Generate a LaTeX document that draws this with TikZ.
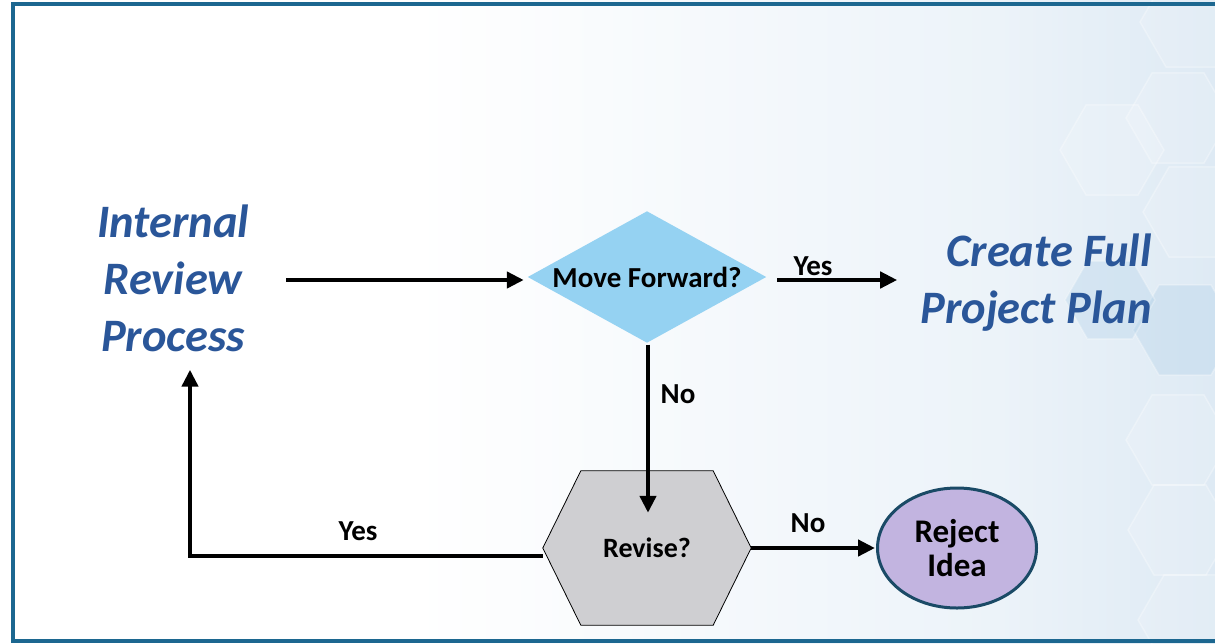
\documentclass[tikz,border=0pt]{standalone}
\usepackage{fontspec}
\setmainfont{Carlito}
\usetikzlibrary{arrows.meta,shapes.geometric,calc}
\pgfdeclarelayer{back}
\pgfsetlayers{back,main}
\definecolor{tblue}{RGB}{42,86,153}
\definecolor{dfill}{RGB}{149,210,242}
\definecolor{hfill}{RGB}{207,207,210}
\definecolor{lav}{RGB}{194,180,224}
\definecolor{edark}{RGB}{26,74,102}
\definecolor{framec}{RGB}{28,103,144}
\definecolor{bgA}{RGB}{236,243,249}
\definecolor{bgB}{RGB}{205,223,238}
\definecolor{bgC}{RGB}{176,204,228}
\pgfdeclarehorizontalshading{bgshade}{100bp}{color(0bp)=(white); color(42bp)=(white); color(66bp)=(bgA); color(86bp)=(bgB); color(100bp)=(bgC)}
\tikzset{
  big/.style={font=\fontsize{46.5}{57}\selectfont\bfseries\itshape, text=tblue, inner sep=0pt},
  lbl/.style={font=\fontsize{29}{33}\selectfont\bfseries, inner sep=0pt},
  arr/.style={line width=4.8pt, -{Triangle[length=17pt,width=16pt]}},
  hexbg/.style={draw=white, draw opacity=.3, line width=1.5pt, fill=white, fill opacity=.15},
  hexblue/.style={fill=bgC!80!dfill, fill opacity=.3, draw=white, draw opacity=.3, line width=1.5pt},
}
\begin{document}
\begin{tikzpicture}[x=1pt,y=-1pt]
\useasboundingbox (0,0) rectangle (1215,643);
\begin{pgfonlayer}{back}
\shade[shading=bgshade] (0,0) rectangle (1215,643);
\foreach \cx/\cy in {1192/22,1178/118,1112/150,1195/212,1178/440,1180/530,1190/620}{
  \draw[hexbg] (\cx,\cy) +(0:52) -- +(60:52) -- +(120:52) -- +(180:52) -- +(240:52) -- +(300:52) -- cycle;
}
\draw[hexblue] (1185,330) +(0:52) -- +(60:52) -- +(120:52) -- +(180:52) -- +(240:52) -- +(300:52) -- cycle;
\draw[hexblue] (1110,300) +(0:45) -- +(60:45) -- +(120:45) -- +(180:45) -- +(240:45) -- +(300:45) -- cycle;
\end{pgfonlayer}
\draw[framec, line width=3.5pt] (13,4) rectangle (1230,641);

\node[big, align=center] (internal) at (173,278) {Internal\\Review\\Process};
\node[big, align=right, anchor=east] (create) at (1152,283) {Create Full\\Project Plan};

\node[lbl, minimum width=238pt, minimum height=131pt] (mf) at (647,277) {\raisebox{-3pt}{Move Forward?}};
\node[lbl, font=\fontsize{28}{33}\selectfont\bfseries, minimum width=208pt, minimum height=154pt] (rev) at (647,548) {Revise?};
\node[ellipse, draw=edark, line width=3pt, fill=lav, minimum width=159pt, minimum height=120pt,
      inner sep=0pt, align=center, font=\fontsize{33}{34}\selectfont\bfseries] (rej) at (957,548) {Reject\\Idea};

\begin{pgfonlayer}{back}
\fill[dfill] (mf.west) -- (mf.north) -- (mf.east) -- (mf.south) -- cycle;
\filldraw[fill=hfill, draw=black, line width=0.8pt] (rev.west) -- ($(rev.north west)+(38,0)$) -- ($(rev.north east)+(-38,0)$) -- (rev.east) -- ($(rev.south east)+(-38,0)$) -- ($(rev.south west)+(38,0)$) -- cycle;
\end{pgfonlayer}

\draw[arr] ($(internal.east |- mf.west)+(37,3)$) -- ($(mf.west)+(-4,3)$);
\draw[arr] ($(mf.east)+(11,3)$) -- ($(mf.east -| create.west)+(-23,3)$);
\draw[arr] ($(mf.south)+(1,2)$) -- ($(rev.north)+(1,42)$);
\draw[arr] ($(rev.west)+(0,8)$) -| ($(internal.south)+(17,18)$);
\draw[arr] (rev.east) -- ($(rej.west)+(-1,0)$);

\node[lbl] (yes1) at (813,266) {Yes};
\node[lbl] (no1) at (678,394) {No};
\node[lbl] (yes2) at (358,531) {Yes};
\node[lbl] (no2) at (808,523) {No};
\end{tikzpicture}
\end{document}
